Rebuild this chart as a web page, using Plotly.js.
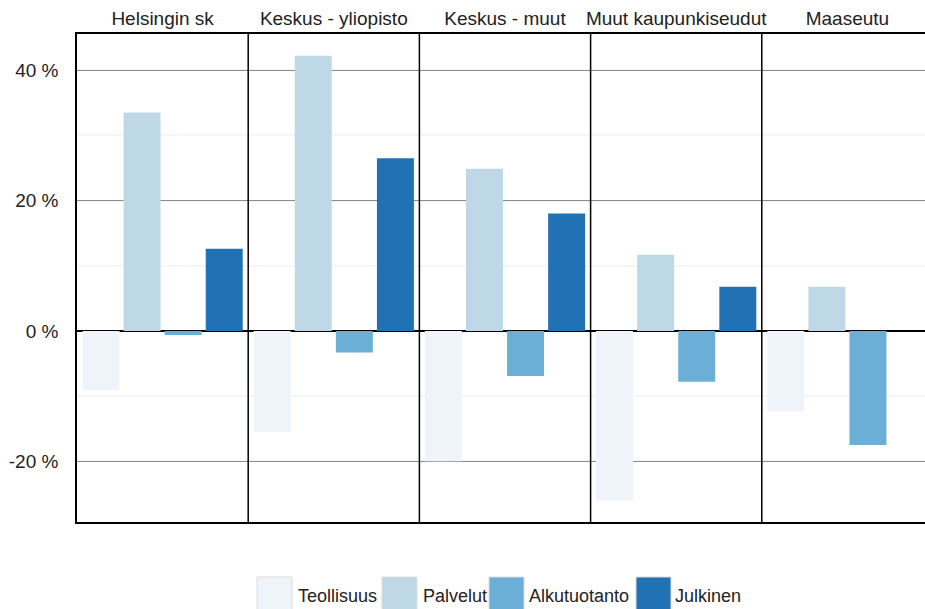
<!DOCTYPE html>
<html>
<head>
<meta charset="utf-8">
<script src="https://cdn.plot.ly/plotly-3.0.1.min.js"></script>
<style>
html, body { margin:0; padding:0; overflow:hidden; background:#fff; }
#chart { width:945px; height:609px; }
</style>
</head>
<body>
<div id="chart"></div>
<script>
const categories = ["Helsingin sk", "Keskus - yliopisto", "Keskus - muut", "Muut kaupunkiseudut", "Maaseutu"];
const seriesNames = ["Teollisuus", "Palvelut", "Alkutuotanto", "Julkinen"];
const teollisuus = [-9.1, -15.5, -20.0, -26.0, -12.3];
const palvelut = [33.5, 42.2, 24.9, 11.7, 6.8];
const alkutuotanto = [-0.6, -3.3, -6.9, -7.8, -17.5];
const julkinen = [12.6, 26.5, 18.0, 6.8, null];
const colors = ["#eff3fa", "#bfd8e7", "#6baed6", "#2171b5"];
const yTickVals = [-20, 0, 20, 40];

const seriesValues = [teollisuus, palvelut, alkutuotanto, julkinen];

const FONT = '"Liberation Sans", Arial, Helvetica, sans-serif';
const TXT = '#222222';

const traces = seriesNames.map((name, i) => ({
  type: 'bar',
  name: name,
  x: categories,
  y: seriesValues[i],
  marker: { color: colors[i], line: { width: 0 } },
  hoverinfo: 'x+y+name',
  showlegend: false
}));

// layout geometry (pixels)
const W = 945, H = 609;
const M = { l: 77, r: 12, t: 34, b: 87 };
const plotW = W - M.l - M.r, plotH = H - M.t - M.b;
const px2x = px => (px - M.l) / plotW;
const py2y = py => (H - M.b - py) / plotH;

const shapes = [];
// vertical dividers between panels
for (let i = 0; i < categories.length - 1; i++) {
  shapes.push({
    type: 'line', xref: 'x', yref: 'paper',
    x0: i + 0.5, x1: i + 0.5, y0: 0, y1: 1,
    line: { color: '#000', width: 1.5 }, layer: 'above'
  });
}

// manual legend (big square swatches)
const legendBoxX = [257, 382, 489, 636];
const legendTextX = [296, 421, 527, 673];
const annotations = [];
seriesNames.forEach((name, i) => {
  shapes.push({
    type: 'rect', xref: 'paper', yref: 'paper',
    x0: px2x(legendBoxX[i]), x1: px2x(legendBoxX[i] + 35),
    y0: py2y(577), y1: py2y(615),
    fillcolor: colors[i], line: { color: '#dcdcdc', width: 1 }
  });
  annotations.push({
    xref: 'paper', yref: 'paper',
    x: px2x(legendTextX[i]), y: py2y(596),
    xanchor: 'left', yanchor: 'middle',
    text: name, showarrow: false,
    font: { family: FONT, size: 18, color: TXT }
  });
});

const layout = {
  width: W, height: H,
  margin: M,
  paper_bgcolor: '#fff', plot_bgcolor: '#fff',
  font: { family: FONT, size: 19, color: TXT },
  barmode: 'group',
  bargap: 0.04,
  bargroupgap: 0.1,
  showlegend: false,
  xaxis: {
    type: 'category',
    side: 'top',
    range: [-0.5, categories.length - 0.5],
    showgrid: false,
    showline: true, mirror: true, linecolor: '#000', linewidth: 1.5,
    ticks: '', ticklen: 0,
    tickfont: { family: FONT, size: 19, color: TXT },
    fixedrange: true
  },
  yaxis: {
    range: [-29.3, 45.55],
    tickvals: yTickVals,
    ticktext: yTickVals.map(v => v + ' %'),
    showgrid: true, gridcolor: '#8c8c8c', gridwidth: 1,
    minor: { dtick: 10, showgrid: true, gridcolor: '#f6f6f6', gridwidth: 2, ticks: '' },
    zeroline: true, zerolinecolor: '#000', zerolinewidth: 1.5,
    showline: true, mirror: true, linecolor: '#000', linewidth: 1.5,
    ticks: '', ticklen: 0,
    ticklabelstandoff: 13,
    tickfont: { family: FONT, size: 19, color: TXT },
    fixedrange: true
  },
  shapes: shapes,
  annotations: annotations
};

Plotly.newPlot('chart', traces, layout, { displayModeBar: false, staticPlot: false });
</script>
</body>
</html>
